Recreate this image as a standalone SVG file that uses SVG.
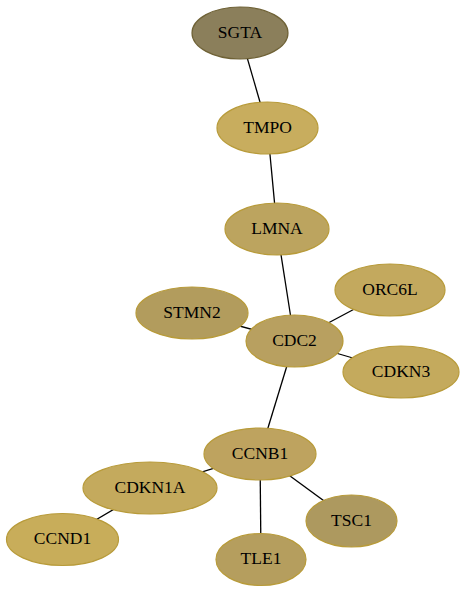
<svg xmlns="http://www.w3.org/2000/svg" width="465" height="593" viewBox="0 0 465 593">
<style>
.e line{stroke:#000;stroke-width:1.3}
.n ellipse{stroke:#b89b3a;stroke-width:1.2}
.n text{font-family:"Liberation Serif","Times New Roman",serif;font-size:17.5px;text-anchor:middle;fill:#000}
</style>
<rect width="465" height="593" fill="#fff"/>
<g id="edges" class="e">
<line x1="240" y1="33" x2="267.5" y2="128"/>
<line x1="267.5" y1="128" x2="277" y2="229"/>
<line x1="277" y1="229" x2="294.5" y2="341"/>
<line x1="192" y1="313" x2="294.5" y2="341"/>
<line x1="390" y1="290" x2="294.5" y2="341"/>
<line x1="401" y1="372" x2="294.5" y2="341"/>
<line x1="294.5" y1="341" x2="260" y2="454"/>
<line x1="260" y1="454" x2="150" y2="488"/>
<line x1="150" y1="488" x2="62.5" y2="539.5"/>
<line x1="260" y1="454" x2="261" y2="559.5"/>
<line x1="260" y1="454" x2="351.5" y2="521"/>
</g>
<g id="SGTA" class="n"><ellipse cx="240" cy="33" rx="48" ry="26" fill="#8b7f5b" style="stroke:#6f6236"/><text x="240" y="37.5">SGTA</text></g>
<g id="TMPO" class="n"><ellipse cx="267.5" cy="128" rx="50.5" ry="26" fill="#c8ad5e"/><text x="267.5" y="132.5">TMPO</text></g>
<g id="LMNA" class="n"><ellipse cx="277" cy="229" rx="52" ry="26" fill="#bca45f"/><text x="277" y="233.5">LMNA</text></g>
<g id="STMN2" class="n"><ellipse cx="192" cy="313" rx="56" ry="26" fill="#b29c5d"/><text x="192" y="317.5">STMN2</text></g>
<g id="ORC6L" class="n"><ellipse cx="390" cy="290" rx="55" ry="26" fill="#c3a95e"/><text x="390" y="294.5">ORC6L</text></g>
<g id="CDKN3" class="n"><ellipse cx="401" cy="372" rx="58" ry="26" fill="#c4aa5d"/><text x="401" y="376.5">CDKN3</text></g>
<g id="CDC2" class="n"><ellipse cx="294.5" cy="341" rx="48.5" ry="26" fill="#b8a060"/><text x="294.5" y="345.5">CDC2</text></g>
<g id="CCNB1" class="n"><ellipse cx="260" cy="454" rx="56" ry="26" fill="#bea35f"/><text x="260" y="458.5">CCNB1</text></g>
<g id="CDKN1A" class="n"><ellipse cx="150" cy="488" rx="67" ry="26" fill="#c4aa5d"/><text x="150" y="492.5">CDKN1A</text></g>
<g id="CCND1" class="n"><ellipse cx="62.5" cy="539.5" rx="56" ry="26" fill="#c8ad5a"/><text x="62.5" y="544">CCND1</text></g>
<g id="TLE1" class="n"><ellipse cx="261" cy="559.5" rx="45" ry="26" fill="#b59e5e"/><text x="261" y="564">TLE1</text></g>
<g id="TSC1" class="n"><ellipse cx="351.5" cy="521" rx="45.5" ry="26" fill="#ad995f"/><text x="351.5" y="525.5">TSC1</text></g>
</svg>
